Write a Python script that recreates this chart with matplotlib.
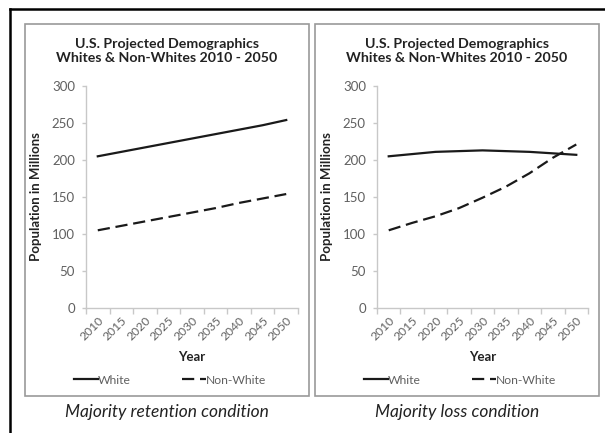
import matplotlib
matplotlib.use("Agg")
import matplotlib.pyplot as plt
from matplotlib.lines import Line2D
from matplotlib.patches import Rectangle

plt.rcParams['font.family'] = ['Lato', 'DejaVu Sans']

years = [2010, 2015, 2020, 2025, 2030, 2035, 2040, 2045, 2050]

# majority retention condition
white_retention = [205, 211, 217, 223, 229, 235, 241, 247, 254]
nonwhite_retention = [105, 111, 117, 123, 129, 135, 142, 148, 154]

# majority loss condition
white_loss = [205, 208, 211, 212, 213, 212, 211, 209, 207]
nonwhite_loss = [105, 115, 124, 135, 149, 164, 182, 203, 221]

title = "U.S. Projected Demographics\nWhites & Non-Whites 2010 - 2050"
captions = ["Majority retention condition", "Majority loss condition"]

W, H = 605, 433


def fx(x):
    return x / W


def fy(y):
    return 1 - y / H


fig = plt.figure(figsize=(W / 100, H / 100), dpi=100)
fig.patch.set_facecolor('white')

# outer black frame (top and left)
fig.add_artist(Line2D([fx(10), 1.0], [fy(9), fy(9)], color='black', lw=1.8,
                      transform=fig.transFigure))
fig.add_artist(Line2D([fx(10), fx(10)], [fy(9), 0.0], color='black', lw=1.8,
                      transform=fig.transFigure))

panels = [
    dict(box=(25, 24, 309, 396), ax=(86, 298), white=white_retention,
         nonwhite=nonwhite_retention, caption=captions[0]),
    dict(box=(315, 24, 599, 396), ax=(377, 588), white=white_loss,
         nonwhite=nonwhite_loss, caption=captions[1]),
]

pos = list(range(len(years)))
grey = '#c8c8c8'

for p in panels:
    x0, y0, x1, y1 = p['box']
    fig.add_artist(Rectangle((fx(x0), fy(y1)), fx(x1 - x0), (y1 - y0) / H,
                             transform=fig.transFigure, fill=False,
                             edgecolor='#9a9a9a', lw=1.2))
    cx = (x0 + x1) / 2

    a0, a1 = p['ax']
    ax = fig.add_axes([fx(a0), fy(308), fx(a1 - a0), (308 - 86) / H])
    ax.plot(pos, p['white'], color='#1a1a1a', lw=1.6, label='White')
    ax.plot(pos, p['nonwhite'], color='#1a1a1a', lw=1.6,
            linestyle=(0, (5.5, 2.6)), label='Non-White')
    ax.set_xlim(-0.5, len(years) - 0.5)
    ax.set_ylim(0, 300)
    ax.set_yticks(range(0, 301, 50))
    ax.set_xticks(pos)
    ax.set_xticklabels([str(y) for y in years], rotation=45, ha='right',
                       rotation_mode='anchor', fontsize=8.7, color='#606060')
    ax.set_xticks([i - 0.5 for i in range(len(years) + 1)], minor=True)
    ax.tick_params(axis='x', which='major', length=0, pad=5)
    ax.tick_params(axis='x', which='minor', length=4, color=grey, width=1)
    ax.tick_params(axis='y', length=3, color=grey, width=1, pad=5,
                   labelsize=9.5, labelcolor='#606060')
    for s in ['top', 'right']:
        ax.spines[s].set_visible(False)
    for s in ['left', 'bottom']:
        ax.spines[s].set_color(grey)
        ax.spines[s].set_linewidth(1)
    ax.set_ylabel('Population in Millions', fontsize=9.5, fontweight='bold',
                  color='#222222', labelpad=7)

    fig.text(fx((a0 + a1) / 2), fy(357), 'Year', ha='center', va='center',
             fontsize=9.5, fontweight='bold', color='#222222')

    fig.text(fx(cx), fy(51), title, ha='center', va='center', fontsize=10.2,
             fontweight='bold', color='#222222', linespacing=1.1)

    leg = ax.legend(loc='center left', ncol=2, frameon=False,
                    bbox_to_anchor=(fx(x0 + 49), fy(380)),
                    bbox_transform=fig.transFigure, fontsize=8.7,
                    handlelength=2.0, handletextpad=0.0, columnspacing=4.2,
                    borderaxespad=0, borderpad=0)
    for t in leg.get_texts():
        t.set_color('#606060')

    fig.text(fx(cx), fy(412), p['caption'], ha='center', va='center',
             fontsize=12.5, fontstyle='italic', color='#222222')

fig.savefig('out.png', dpi=100)
